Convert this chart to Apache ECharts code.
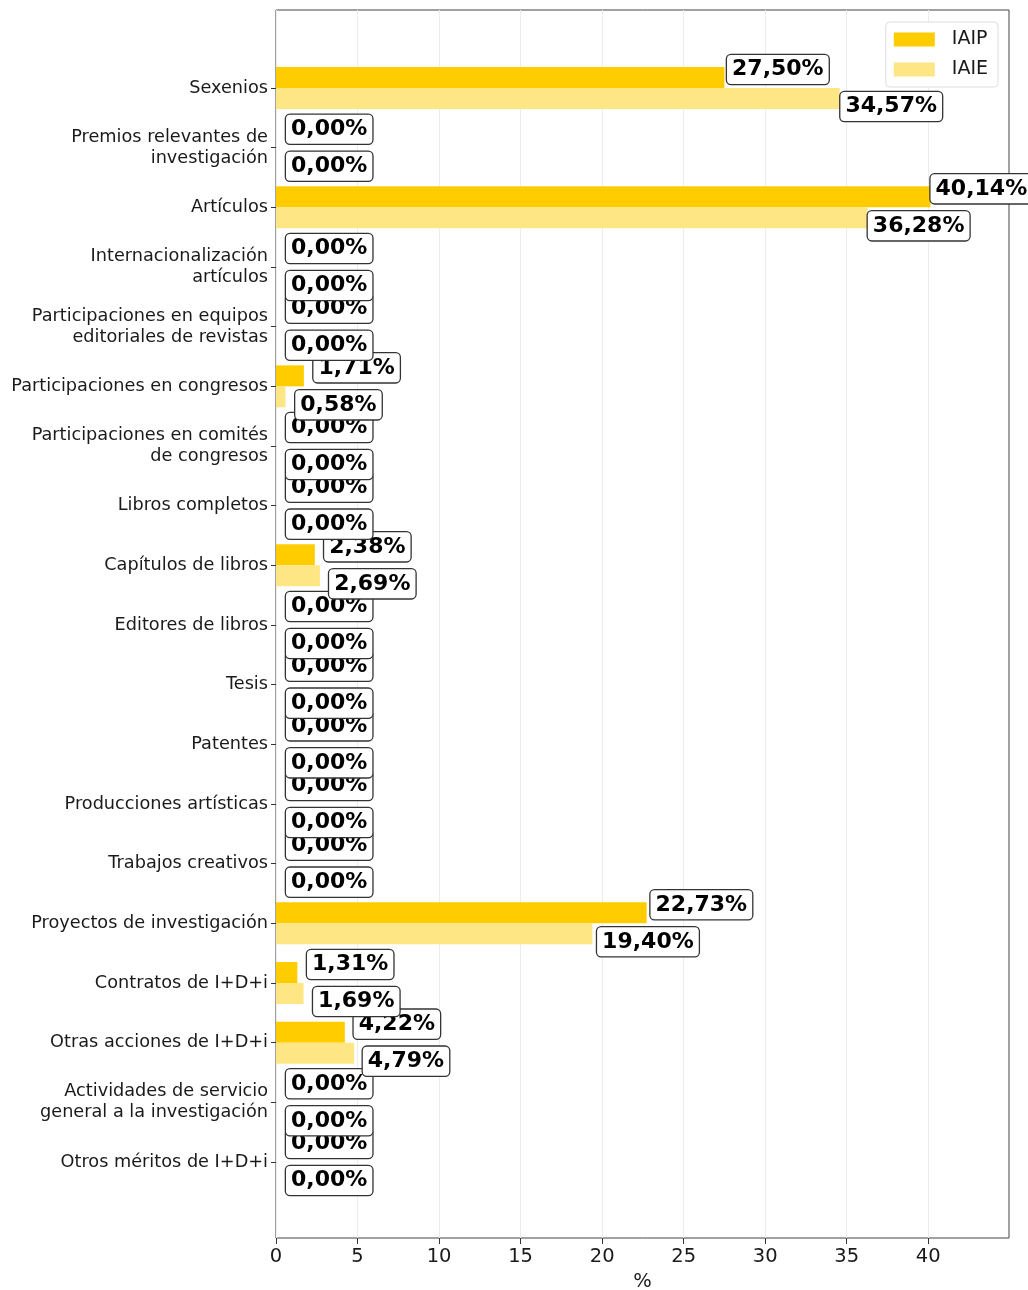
<!DOCTYPE html>
<html>
<head>
<meta charset="utf-8">
<script src="https://cdn.jsdelivr.net/npm/echarts@6/dist/echarts.min.js"></script>
<style>
    html, body {margin: 0; padding: 0; background: #fff;}
    #box {width: 1028px; height: 1290px;}
</style>
</head>
<body>
<div id="box"></div>
<script>
var categories = ['Sexenios', 'Premios relevantes de\ninvestigación', 'Artículos', 'Internacionalización\nartículos',
    'Participaciones en equipos\neditoriales de revistas', 'Participaciones en congresos',
    'Participaciones en comités\nde congresos', 'Libros completos', 'Capítulos de libros', 'Editores de libros',
    'Tesis', 'Patentes', 'Producciones artísticas', 'Trabajos creativos', 'Proyectos de investigación',
    'Contratos de I+D+i', 'Otras acciones de I+D+i', 'Actividades de servicio\ngeneral a la investigación',
    'Otros méritos de I+D+i'];
var iaip = [27.50, 0, 40.14, 0, 0, 1.71, 0, 0, 2.38, 0, 0, 0, 0, 0, 22.73, 1.31, 4.22, 0, 0];
var iaie = [34.57, 0, 36.28, 0, 0, 0.58, 0, 0, 2.69, 0, 0, 0, 0, 0, 19.40, 1.69, 4.79, 0, 0];
var xTicks = [0, 5, 10, 15, 20, 25, 30, 35, 40];

var xMax = 44.95;

// etiqueta un poco mas pegada a la barra cuanto mas larga es
function items(arr) {
    return arr.map(function (v) {
        return {value: v, label: {distance: Math.max(0, 10 - 0.27 * v)}};
    });
}
function fmt(p) {
    return p.value.toFixed(2).replace('.', ',') + '%';
}
var labelBox = {
    show: true,
    position: 'right',
    formatter: fmt,
    fontFamily: 'DejaVu Sans',
    fontWeight: 'bold',
    fontSize: 22,
    color: '#000',
    backgroundColor: '#fff',
    borderColor: '#333',
    borderWidth: 1.3,
    borderRadius: 4,
    padding: [4, 5, 3, 5]
};

var myChart = echarts.init(document.getElementById('box'));
var option = {
    animation: false,
    textStyle: {fontFamily: 'DejaVu Sans'},
    grid: [
        {left: 276, right: 19, top: 10, bottom: 52, show: true, borderColor: '#444', borderWidth: 1,
            outerBoundsMode: 'none', containLabel: false},
        {left: 276, right: 19, top: 58.2, bottom: 98.2, outerBoundsMode: 'none', containLabel: false}
    ],
    legend: {
        data: ['IAIP', 'IAIE'],
        orient: 'vertical',
        right: 30,
        top: 22,
        icon: 'rect',
        itemWidth: 41,
        itemHeight: 14,
        itemGap: 11,
        padding: [8, 10, 8, 8],
        borderColor: '#ddd',
        borderWidth: 1,
        borderRadius: 4,
        backgroundColor: '#fff',
        textStyle: {fontSize: 19, color: '#1a1a1a', padding: [0, 0, 0, 12]}
    },
    xAxis: [
        {
            gridIndex: 0, type: 'value', min: 0, max: xMax, interval: 5,
            name: '%', nameLocation: 'middle', nameGap: 31,
            nameTextStyle: {fontSize: 19.5, color: '#1a1a1a'},
            axisLine: {show: false},
            axisTick: {show: true, length: 6, lineStyle: {color: '#333'},
                customValues: xTicks},
            axisLabel: {fontSize: 19.5, color: '#1a1a1a', margin: 9, customValues: xTicks},
            splitLine: {show: true, lineStyle: {color: '#ececec', width: 1}}
        },
        {gridIndex: 1, type: 'value', min: 0, max: xMax, show: false}
    ],
    yAxis: [
        {gridIndex: 0, type: 'value', show: false, min: 0, max: 1},
        {
            gridIndex: 1, type: 'category', data: categories, inverse: true,
            axisLine: {show: false},
            axisTick: {show: true, alignWithLabel: true, length: 5, lineStyle: {color: '#333'}},
            axisLabel: {fontSize: 17.7, color: '#1a1a1a', margin: 8, lineHeight: 21, align: 'right'}
        }
    ],
    series: [
        {
            name: 'IAIP', type: 'bar', xAxisIndex: 1, yAxisIndex: 1,
            barWidth: 21, barGap: '0%',
            itemStyle: {color: '#ffcc00'},
            label: Object.assign({}, labelBox, {offset: [0, -8]}),
            data: items(iaip)
        },
        {
            name: 'IAIE', type: 'bar', xAxisIndex: 1, yAxisIndex: 1,
            barWidth: 21, barGap: '0%',
            itemStyle: {color: '#ffe685'},
            label: Object.assign({}, labelBox, {offset: [0, 8]}),
            data: items(iaie)
        }
    ]
};
myChart.setOption(option);
</script>
</body>
</html>
